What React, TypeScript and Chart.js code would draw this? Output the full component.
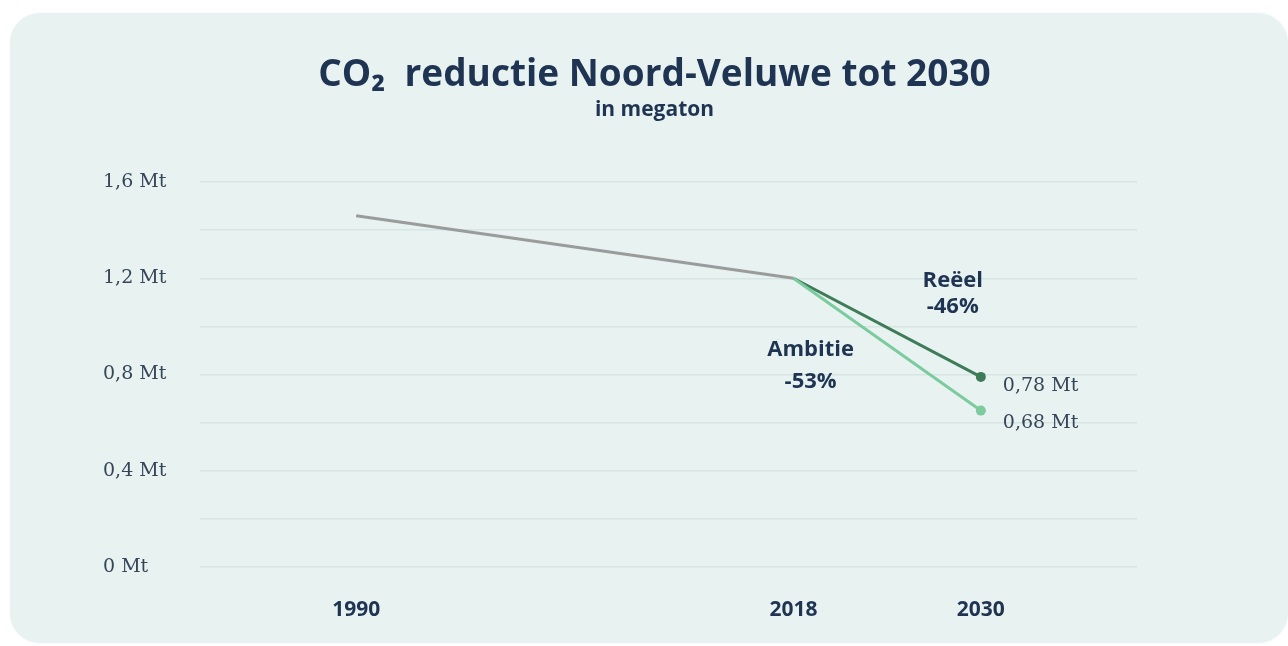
import React, { useEffect, useRef } from "react";
import { Chart, registerables } from "chart.js";
Chart.register(...registerables);

const years = [1990, 2018, 2030];
const historicYears = [1990, 2018];
const historicValues = [1.46, 1.2];
const projYears = [2018, 2030];
const reeelValues = [1.2, 0.79];
const ambitieValues = [1.2, 0.65];
const endLabels = ["0,78 Mt", "0,68 Mt"];
const reeelText = ["Reëel", "-46%"];
const ambitieText = ["Ambitie", "-53%"];
const reeelAnchor = [2028.2, 1.135];
const ambitieAnchor = [2019.1, 0.835];
const titleText = "CO₂  reductie Noord-Veluwe tot 2030";
const subtitleText = "in megaton";

const NAVY = "#1f3452";
const GREY_TXT = "#364558";
const BOLD_FONT = "'Open Sans', 'Noto Sans', sans-serif";
const SERIF_FONT = "'DejaVu Serif', serif";

const textPlugin = {
  id: "textPlugin",
  afterDraw(chart: any) {
    const { ctx, chartArea, scales } = chart;
    const xs = scales.x;
    const ys = scales.y;
    ctx.save();
    ctx.fillStyle = NAVY;
    ctx.textAlign = "center";
    ctx.textBaseline = "middle";
    const cx = (chartArea.left + chartArea.right) / 2 - 14;
    ctx.font = `700 37px ${BOLD_FONT}`;
    ctx.fillText(titleText, cx, 75);
    ctx.font = `700 21px ${BOLD_FONT}`;
    ctx.fillText(subtitleText, cx, 110);

    ctx.font = `700 22px ${BOLD_FONT}`;
    const rx = xs.getPixelForValue(reeelAnchor[0]);
    const ry = ys.getPixelForValue(reeelAnchor[1]);
    ctx.fillText(reeelText[0], rx, ry - 13);
    ctx.fillText(reeelText[1], rx, ry + 13);
    const ax = xs.getPixelForValue(ambitieAnchor[0]);
    const ay = ys.getPixelForValue(ambitieAnchor[1]);
    ctx.fillText(ambitieText[0], ax, ay - 16);
    ctx.fillText(ambitieText[1], ax, ay + 16);

    ctx.font = `19px ${SERIF_FONT}`;
    ctx.fillStyle = GREY_TXT;
    ctx.textAlign = "left";
    const ends = [reeelValues[1], ambitieValues[1]];
    ends.forEach((v, i) => {
      const px = xs.getPixelForValue(projYears[1]) + 22;
      const py = ys.getPixelForValue(v) + 9 + i * 3;
      ctx.fillText(endLabels[i], px, py);
    });
    ctx.restore();
  },
};

export default function App() {
  const ref = useRef<HTMLCanvasElement | null>(null);
  useEffect(() => {
    document.body.style.margin = "0";
    const chart = new Chart(ref.current as HTMLCanvasElement, {
      type: "line",
      data: {
        datasets: [
          {
            label: "Historisch",
            data: historicYears.map((x, i) => ({ x, y: historicValues[i] })),
            borderColor: "#9a9b9b",
            borderWidth: 3,
            pointRadius: 0,
          },
          {
            label: "Ambitie",
            data: projYears.map((x, i) => ({ x, y: ambitieValues[i] })),
            borderColor: "#7ccb9f",
            backgroundColor: "#7ccb9f",
            borderWidth: 3,
            pointRadius: [0, 5],
            pointBorderWidth: 0,
          },
          {
            label: "Reëel",
            data: projYears.map((x, i) => ({ x, y: reeelValues[i] })),
            borderColor: "#3e7b58",
            backgroundColor: "#3e7b58",
            borderWidth: 3,
            pointRadius: [0, 5],
            pointBorderWidth: 0,
          },
        ],
      },
      options: {
        animation: false,
        responsive: false,
        layout: { padding: { top: 182, left: 103, right: 151, bottom: 9 } },
        plugins: { legend: { display: false }, tooltip: { enabled: false }, title: { display: false } },
        scales: {
          x: {
            type: "linear",
            min: 1980,
            max: 2040,
            grid: { display: false },
            border: { display: false },
            afterBuildTicks: (s: any) => {
              s.ticks = years.map((v) => ({ value: v }));
            },
            afterFit: (s: any) => {
              s.height = 70;
            },
            ticks: {
              color: NAVY,
              padding: 22,
              font: { family: BOLD_FONT, size: 21, weight: "bold" },
              callback: (v: any) => String(v),
              autoSkip: false,
              maxRotation: 0,
            },
          },
          y: {
            min: 0,
            max: 1.6,
            border: { display: false },
            grid: { color: "#d6e5e2", lineWidth: 1.5, drawTicks: false },
            afterFit: (s: any) => {
              s.width = 97;
            },
            ticks: {
              stepSize: 0.2,
              crossAlign: "far",
              color: GREY_TXT,
              font: { family: SERIF_FONT, size: 19 },
              callback: (v: any) => {
                const n = Math.round(Number(v) * 10);
                if (n % 4 !== 0) return "";
                return (n / 10).toString().replace(".", ",") + " Mt";
              },
            },
          },
        },
      },
      plugins: [textPlugin],
    } as any);
    return () => chart.destroy();
  }, []);

  return (
    <div style={{ position: "fixed", left: 0, top: 0, width: 1288, height: 646, background: "#ffffff", overflow: "hidden" }}>
      <div
        style={{
          position: "absolute",
          left: 10,
          top: 13,
          width: 1278,
          height: 630,
          background: "#e8f3f1",
          borderRadius: 30,
          boxShadow: "0 0 3px rgba(0,0,0,0.04)",
        }}
      />
      <canvas ref={ref} width={1288} height={646} style={{ position: "absolute", left: 0, top: 0 }} />
    </div>
  );
}
